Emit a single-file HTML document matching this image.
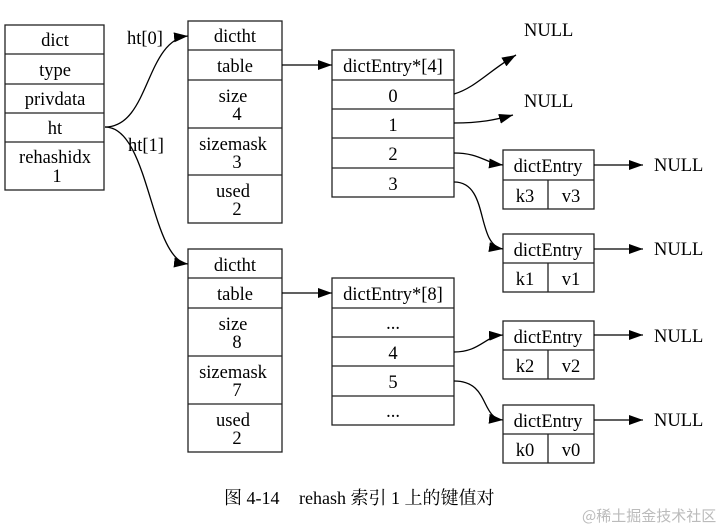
<!DOCTYPE html>
<html><head><meta charset="utf-8"><style>
html,body{margin:0;padding:0;background:#fff;}
svg{display:block;}
text{font-family:"Liberation Serif","Noto Serif CJK SC",serif;font-size:18.5px;fill:#000;}
.b{fill:none;stroke:#222;stroke-width:1.3;}
.l{fill:none;stroke:#000;stroke-width:1.3;}
</style></head><body>
<svg width="721" height="528" viewBox="0 0 721 528" xmlns="http://www.w3.org/2000/svg">
<defs><marker id="a" markerWidth="14" markerHeight="10" refX="14" refY="5" orient="auto" markerUnits="userSpaceOnUse"><path d="M0,0 L14,5 L0,10 z" fill="#000"/></marker></defs>
<g text-anchor="middle">
<rect class="b" x="5" y="25" width="99" height="165"/>
<path class="b" d="M5 54H104M5 84H104M5 113H104M5 142H104"/>
<text x="55" y="46">dict</text><text x="55" y="76">type</text><text x="55" y="105">privdata</text><text x="55" y="134">ht</text>
<text x="55" y="163">rehashidx</text><text x="57" y="182">1</text>
<rect class="b" x="188" y="21" width="94" height="202"/>
<path class="b" d="M188 50H282M188 80H282M188 128H282M188 175H282"/>
<text x="235" y="42">dictht</text><text x="235" y="72">table</text>
<text x="233" y="102">size</text><text x="237" y="120">4</text>
<text x="233" y="150">sizemask</text><text x="237" y="168">3</text>
<text x="233" y="197">used</text><text x="237" y="215">2</text>
<rect class="b" x="188" y="249" width="94" height="203"/>
<path class="b" d="M188 278H282M188 308H282M188 356H282M188 404H282"/>
<text x="235" y="271">dictht</text><text x="235" y="300">table</text>
<text x="233" y="330">size</text><text x="237" y="348">8</text>
<text x="233" y="378">sizemask</text><text x="237" y="396">7</text>
<text x="233" y="426">used</text><text x="237" y="444">2</text>
<rect class="b" x="332" y="50" width="122" height="147"/>
<path class="b" d="M332 80H454M332 109H454M332 138H454M332 168H454"/>
<text x="393" y="72">dictEntry*[4]</text><text x="393" y="102">0</text><text x="393" y="131">1</text><text x="393" y="160">2</text><text x="393" y="190">3</text>
<rect class="b" x="332" y="278" width="122" height="147"/>
<path class="b" d="M332 308H454M332 337H454M332 366H454M332 396H454"/>
<text x="393" y="300">dictEntry*[8]</text><text x="393" y="329">...</text><text x="393" y="359">4</text><text x="393" y="388">5</text><text x="393" y="417">...</text>
<rect class="b" x="503" y="150" width="91" height="59"/><path class="b" d="M503 180H594M548 180V209"/>
<text x="548" y="172">dictEntry</text><text x="525" y="202">k3</text><text x="571" y="202">v3</text>
<rect class="b" x="503" y="234" width="91" height="58"/><path class="b" d="M503 263H594M548 263V292"/>
<text x="548" y="256">dictEntry</text><text x="525" y="285">k1</text><text x="571" y="285">v1</text>
<rect class="b" x="503" y="321" width="91" height="58"/><path class="b" d="M503 350H594M548 350V379"/>
<text x="548" y="343">dictEntry</text><text x="525" y="372">k2</text><text x="571" y="372">v2</text>
<rect class="b" x="503" y="405" width="91" height="58"/><path class="b" d="M503 434H594M548 434V463"/>
<text x="548" y="427">dictEntry</text><text x="525" y="456">k0</text><text x="571" y="456">v0</text>
</g>
<g text-anchor="start">
<text x="524" y="36">NULL</text><text x="524" y="107">NULL</text>
<text x="654" y="171">NULL</text><text x="654" y="255">NULL</text><text x="654" y="342">NULL</text><text x="654" y="426">NULL</text>
<text x="127" y="44">ht[0]</text><text x="128" y="151">ht[1]</text>
</g>
<path class="l" marker-end="url(#a)" d="M105 127C150 127 145 40 188 36"/>
<path class="l" marker-end="url(#a)" d="M105 127C150 127 150 260 188 264"/>
<path class="l" marker-end="url(#a)" d="M282 65H332"/>
<path class="l" marker-end="url(#a)" d="M282 293H332"/>
<path class="l" marker-end="url(#a)" d="M454 94C475 88 490 70 516 55"/>
<path class="l" marker-end="url(#a)" d="M454 123C480 123 495 120 513 115"/>
<path class="l" marker-end="url(#a)" d="M454 153C480 153 485 163 503 165"/>
<path class="l" marker-end="url(#a)" d="M454 182C490 182 475 245 503 249"/>
<path class="l" marker-end="url(#a)" d="M454 352C480 352 485 336 503 335"/>
<path class="l" marker-end="url(#a)" d="M454 381C490 381 480 418 503 420"/>
<path class="l" marker-end="url(#a)" d="M594 165H643"/>
<path class="l" marker-end="url(#a)" d="M594 249H643"/>
<path class="l" marker-end="url(#a)" d="M594 335H643"/>
<path class="l" marker-end="url(#a)" d="M594 420H643"/>
<text x="224" y="504" style="font-size:18px">图 4-14</text>
<text x="299" y="504" style="font-size:18px">rehash 索引 1 上的键值对</text>
<text x="582" y="521" style="font-size:15px;fill:#bbb;font-family:'Noto Sans CJK SC',sans-serif">@稀土掘金技术社区</text>
</svg>
</body></html>
